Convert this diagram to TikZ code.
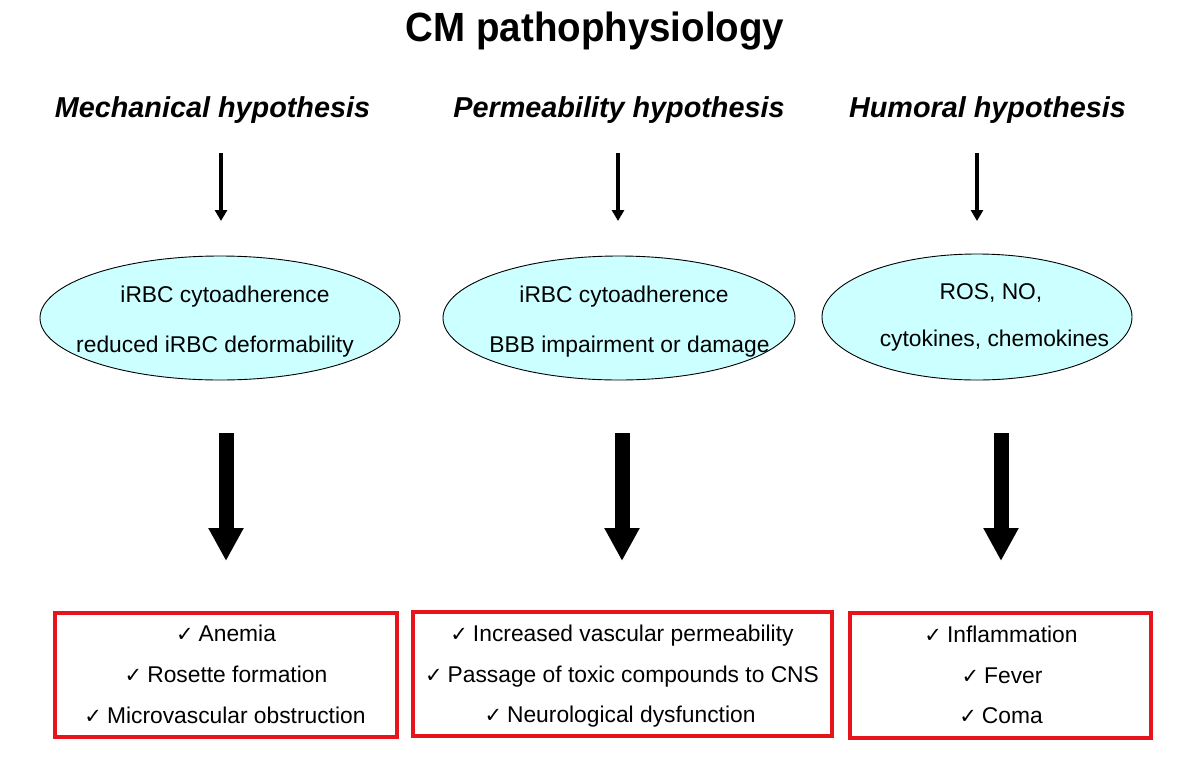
\documentclass[tikz,border=0pt]{standalone}
\usepackage{fontspec}
\setmainfont{Liberation Sans}
\newfontfamily\chk{DejaVu Sans}
\usetikzlibrary{shapes.geometric,arrows.meta}
\definecolor{ellfill}{HTML}{CCFFFF}
\definecolor{boxred}{HTML}{E8141B}
\newcommand{\ck}{{\chk\fontsize{21}{21}\selectfont ✓}\hspace{5pt}}
\begin{document}
\begin{tikzpicture}[x=1pt,y=-1pt,
  title/.style={font=\fontsize{38.5}{44}\selectfont\bfseries},
  hyp/.style={font=\fontsize{28.8}{32}\selectfont\bfseries\itshape},
  ell/.style={ellipse, draw=black, line width=0.9pt, fill=ellfill, align=center},
  body/.style={font=\fontsize{22.8}{26}\selectfont, text height=16.5pt, text depth=4.7pt},
  res/.style={draw=boxred, line width=3.3pt, align=center, inner sep=0pt},
  thin/.style={line width=3.2pt, -{Triangle[width=12pt,length=11pt]}},
  thick/.style={line width=15pt, -{Triangle[width=33pt,length=33pt]}}]
\useasboundingbox (0,0) rectangle (1200,761);
\node[title] (t) at (595,31) {\scalebox{1}[1.06]{CM pathophysiology}};
\node[hyp] (h1) at (212.5,110) {Mechanical hypothesis};
\node[hyp] (h2) at (619,110) {Permeability hypothesis};
\node[hyp] (h3) at (987.5,110) {Humoral hypothesis};
% ellipses
\node[ell, minimum width=360pt, minimum height=124pt] (e1) at (220,318) {};
\node[ell, minimum width=352pt, minimum height=124pt] (e2) at (619,318) {};
\node[ell, minimum width=310pt, minimum height=126pt] (e3) at (977,317) {};
\node[body] (e1a) at (225,297) {iRBC cytoadherence};
\node[body] (e1b) at (215,347) {reduced iRBC deformability};
\node[body] (e2a) at (624,297) {iRBC cytoadherence};
\node[body] (e2b) at (629.5,347) {BBB impairment or damage};
\node[body] (e3a) at (991,294) {ROS, NO,};
\node[body] (e3b) at (994.5,341) {cytokines, chemokines};
% boxes
\node[res, minimum width=342pt, minimum height=124pt] (b1) at (226,675) {};
\node[res, minimum width=419pt, minimum height=124pt] (b2) at (622.5,674) {};
\node[res, minimum width=301pt, minimum height=125pt] (b3) at (1000.5,675.5) {};
\node[body] (b1a) at (226,636) {\ck Anemia};
\node[body] (b1b) at (226,677) {\ck Rosette formation};
\node[body] (b1c) at (225,718) {\ck Microvascular obstruction};
\node[body] (b2a) at (622,636) {\ck Increased vascular permeability};
\node[body] (b2b) at (622,677) {\ck Passage of toxic compounds to CNS};
\node[body] (b2c) at (620,717) {\ck Neurological dysfunction};
\node[body] (b3a) at (1001,637) {\ck Inflammation};
\node[body] (b3b) at (1002,677.5) {\ck Fever};
\node[body] (b3c) at (1001,718) {\ck Coma};
% arrows
\coordinate (a1s) at (221,153); \coordinate (a1e) at (221,221);
\coordinate (a2s) at (618,153); \coordinate (a2e) at (618,221);
\coordinate (a3s) at (977,153); \coordinate (a3e) at (977,221);
\draw[thin] (a1s) -- (a1e);
\draw[thin] (a2s) -- (a2e);
\draw[thin] (a3s) -- (a3e);
\coordinate (k1s) at (226,433); \coordinate (k1e) at (226,561);
\coordinate (k2s) at (622,433); \coordinate (k2e) at (622,561);
\coordinate (k3s) at (1001,433); \coordinate (k3e) at (1001,561);
\draw[thick] (k1s) -- (k1e);
\draw[thick] (k2s) -- (k2e);
\draw[thick] (k3s) -- (k3e);
\end{tikzpicture}
\end{document}
